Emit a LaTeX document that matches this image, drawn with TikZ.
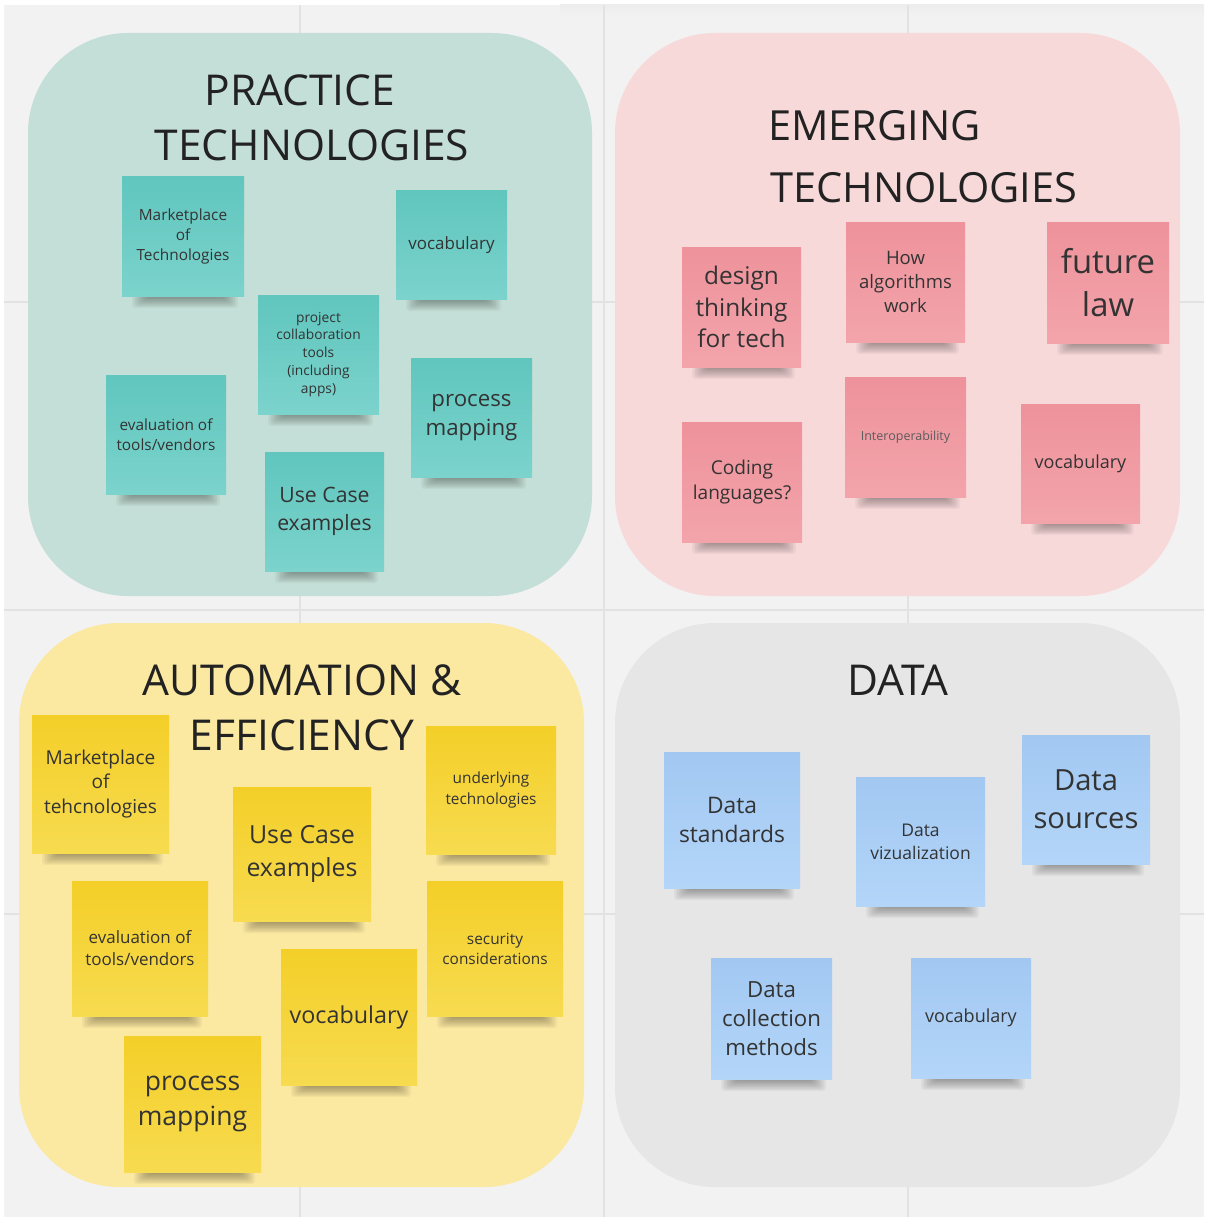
\documentclass[tikz,border=0pt]{standalone}
\usepackage{fontspec}
\setmainfont{Open Sans}
\definecolor{bgc}{HTML}{F2F2F2}
\definecolor{gridc}{HTML}{E2E2E2}
\definecolor{tealpanel}{HTML}{C4DFD7}
\definecolor{tealtop}{HTML}{60C6BE}
\definecolor{tealbot}{HTML}{7BD3CC}
\definecolor{pinkpanel}{HTML}{F8D9DA}
\definecolor{pinktop}{HTML}{EE929B}
\definecolor{pinkbot}{HTML}{F3A4AB}
\definecolor{yellowpanel}{HTML}{FBE8A1}
\definecolor{yellowtop}{HTML}{F4CF28}
\definecolor{yellowbot}{HTML}{F7DB50}
\definecolor{graypanel}{HTML}{E6E6E6}
\definecolor{bluetop}{HTML}{A2C8F2}
\definecolor{bluebot}{HTML}{B3D5F8}
\definecolor{txt}{HTML}{333333}
\definecolor{ttl}{HTML}{222222}
\newcommand\sticky[8]{%
  \foreach \k in {0,...,9} {%
    \fill[black, opacity=0.035, rounded corners=3pt]
      ({#2+10+1.6*\k},{#5-1}) rectangle ({#4-6-1.6*\k},{#5+12-1.1*\k});
  }
  \pgfmathsetmacro\fsz{#7*1.06}%
  \pgfmathsetmacro\lsk{#7*1.38}%
  \node[#6, minimum width={(#4-#2)*1pt}, minimum height={(#5-#3)*1pt},
        font=\fontsize{\fsz}{\lsk}\selectfont] (#1) at ({(#2+#4)/2},{(#3+#5)/2}) {#8};
}
\tikzset{
  notebase/.style={inner sep=2pt, align=center, text=txt},
  tealnote/.style={notebase, top color=tealtop, bottom color=tealbot},
  pinknote/.style={notebase, top color=pinktop, bottom color=pinkbot},
  yellownote/.style={notebase, top color=yellowtop, bottom color=yellowbot},
  bluenote/.style={notebase, top color=bluetop, bottom color=bluebot},
  title/.style={inner sep=0pt, text=ttl, font=\fontsize{42.5}{50}\selectfont, anchor=base},
  panel/.style={rounded corners=100pt},
}
\begin{document}
\begin{tikzpicture}[x=1pt,y=-1pt]
\useasboundingbox (0,0) rectangle (1204,1217);
% background
\fill[white] (0,0) rectangle (1204,1217);
\fill[bgc] (4,5) rectangle (1204,1217);
\shade[top color=black!7, bottom color=bgc] (560,5) rectangle (1204,16);
\foreach \gx in {300,604,908} \draw[gridc, line width=1.5pt] (\gx,5) -- (\gx,1217);
\foreach \gy in {302,610,914} \draw[gridc, line width=1.5pt] (4,\gy) -- (1204,\gy);
% panels
\fill[tealpanel, panel] (28,33) rectangle (592,596);
\fill[pinkpanel, panel] (615,33) rectangle (1180,596);
\fill[yellowpanel, panel] (19,623) rectangle (584,1187);
\fill[graypanel, panel] (615,623) rectangle (1180,1187);
% titles
\node[title] (pt1) at (300,106) {PRACTICE};
\node[title] (pt2) at (312,161) {TECHNOLOGIES};
\node[title, anchor=base west, font=\fontsize{41.5}{50}\selectfont] (et1) at (768,141) {EMERGING};
\node[title, anchor=base west, font=\fontsize{41.5}{50}\selectfont] (et2) at (770,202) {TECHNOLOGIES};
\node[title] (at1) at (302,695) {AUTOMATION \&};
\node[title] (at2) at (302,750) {EFFICIENCY};
\node[title] (dt1) at (898,695) {DATA};
% practice technologies
\sticky{p1}{122}{177}{244}{296}{tealnote}{14.5}{Marketplace\\of\\Technologies}
\sticky{p2}{396}{191}{507}{299}{tealnote}{16}{vocabulary}
\sticky{p3}{258}{295}{379}{414}{tealnote}{13}{project\\collaboration\\tools\\(including\\apps)}
\sticky{p4}{106}{375}{226}{494}{tealnote}{14.5}{evaluation of\\tools/vendors}
\sticky{p5}{411}{358}{532}{477}{tealnote}{21}{process\\mapping}
\sticky{p6}{265}{452}{384}{571}{tealnote}{20}{Use Case\\examples}
% emerging technologies
\sticky{e1}{682}{247}{801}{367}{pinknote}{23}{design\\thinking\\for tech}
\sticky{e2}{846}{222}{965}{342}{pinknote}{17.5}{How\\algorithms\\work}
\sticky{e3}{1047}{222}{1169}{343}{pinknote}{31}{future\\law}
\sticky{e4}{682}{422}{802}{542}{pinknote}{18}{Coding\\languages?}
\sticky{e5}{845}{377}{966}{497}{pinknote, text=txt!80}{11.8}{Interoperability}
\sticky{e6}{1021}{404}{1140}{523}{pinknote}{17}{vocabulary}
% automation & efficiency
\sticky{a1}{32}{715}{169}{853}{yellownote}{18}{Marketplace\\of\\tehcnologies}
\sticky{a2}{426}{726}{556}{854}{yellownote}{14.5}{underlying\\technologies}
\sticky{a3}{233}{787}{371}{921}{yellownote}{23.5}{Use Case\\examples}
\sticky{a4}{72}{881}{208}{1016}{yellownote}{16}{evaluation of\\tools/vendors}
\sticky{a5}{427}{881}{563}{1016}{yellownote}{14.5}{security\\considerations}
\sticky{a6}{281}{949}{417}{1085}{yellownote}{22}{vocabulary}
\sticky{a7}{124}{1036}{261}{1172}{yellownote}{25}{process\\mapping}
% data
\sticky{d1}{664}{752}{800}{888}{bluenote}{21.5}{Data\\standards}
\sticky{d2}{856}{777}{985}{906}{bluenote}{16.5}{Data\\vizualization}
\sticky{d3}{1022}{735}{1150}{864}{bluenote}{27.5}{Data\\sources}
\sticky{d4}{711}{958}{832}{1079}{bluenote}{21}{Data\\collection\\methods}
\sticky{d5}{911}{958}{1031}{1078}{bluenote}{17}{vocabulary}
\end{tikzpicture}
\end{document}
